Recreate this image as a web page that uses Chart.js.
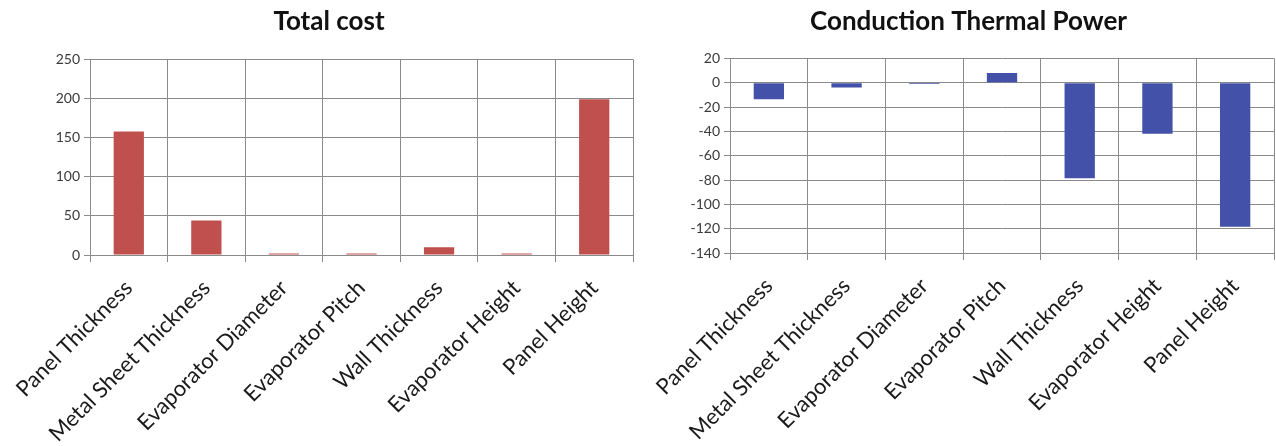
<!DOCTYPE html>
<html>
<head>
<meta charset="utf-8">
<script src="https://cdn.jsdelivr.net/npm/chart.js@4.4.1/dist/chart.umd.min.js"></script>
<style>
  body { margin: 0; background: #fff; }
  .wrap { position: absolute; top: 0; width: 638px; height: 446px; }
  #leftWrap { left: 0; }
  #rightWrap { left: 638px; }
</style>
</head>
<body>
<div class="wrap" id="leftWrap"><canvas id="costChart" width="638" height="446"></canvas></div>
<div class="wrap" id="rightWrap"><canvas id="powerChart" width="638" height="446"></canvas></div>
<script>
  // Data
  const categories = ["Panel Thickness", "Metal Sheet Thickness", "Evaporator Diameter", "Evaporator Pitch", "Wall Thickness", "Evaporator Height", "Panel Height"];
  const costValues = [158, 44, 2, 2, 10, 2, 199];
  const powerValues = [-13.5, -4, -1, 8, -78.5, -42, -118.5];
  const costTicks = [0, 50, 100, 150, 200, 250];
  const powerTicks = [-140, -120, -100, -80, -60, -40, -20, 0, 20];

  const gridColor = '#8a8a8a';
  const tickColor = '#3a3a3a';

  function makeChart(canvasId, title, values, tickList, color, yWidth, xHeight, pad) {
    const ctx = document.getElementById(canvasId).getContext('2d');
    return new Chart(ctx, {
      type: 'bar',
      data: {
        labels: categories,
        datasets: [{
          label: title,
          data: values,
          backgroundColor: color,
          barPercentage: 0.39,
          categoryPercentage: 1.0,
        }],
      },
      options: {
        responsive: false,
        animation: false,
        layout: { padding: { left: pad.left, right: pad.right, top: 0, bottom: 0 } },
        plugins: {
          legend: { display: false },
          tooltip: { enabled: false },
          title: {
            display: true,
            text: title,
            color: '#111',
            font: { family: 'Lato', size: 26, weight: 'bold' },
            padding: { top: 6, bottom: pad.titleBottom },
          },
        },
        scales: {
          x: {
            grid: { color: gridColor, tickLength: 7, offset: true },
            border: { color: gridColor },
            ticks: {
              color: '#1a1a1a',
              font: { family: 'Lato', size: 22 },
              minRotation: 45,
              maxRotation: 45,
              autoSkip: false,
              padding: 13,
              labelOffset: 0,
            },
            afterFit: (scale) => {
              scale.height = xHeight;
              // rotated labels may hang past the plot; don't let them push it in
              scale.paddingLeft = 0;
              scale.paddingRight = 0;
            },
          },
          y: {
            min: tickList[0],
            max: tickList[tickList.length - 1],
            grid: { color: gridColor, tickLength: 6 },
            border: { color: gridColor },
            afterBuildTicks: (scale) => { scale.ticks = tickList.map(v => ({ value: v })); },
            ticks: {
              color: tickColor,
              font: { family: 'Lato', size: 14 },
              padding: 4,
            },
            afterFit: (scale) => { scale.width = yWidth; },
          },
        },
      },
    });
  }

  makeChart('costChart', 'Total cost', costValues, costTicks, '#c0504d', 65, 191, { left: 25, right: 5, titleBottom: 22.2 });
  makeChart('powerChart', 'Conduction Thermal Power', powerValues, powerTicks, '#4352a8', 67, 193, { left: 25, right: 2, titleBottom: 21.2 });
</script>
</body>
</html>
